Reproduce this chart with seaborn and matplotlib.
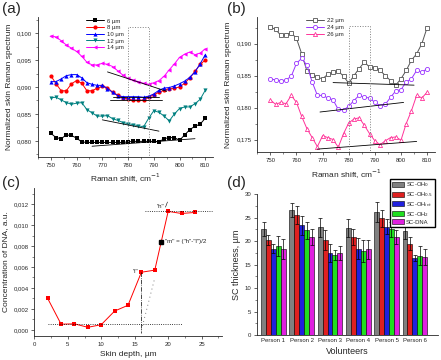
import numpy as np
import pandas as pd
import matplotlib
matplotlib.use("Agg")
import matplotlib.pyplot as plt
import seaborn as sns
from matplotlib.ticker import FuncFormatter, MultipleLocator

# ---------------- data ----------------
shift = [750, 752, 754, 756, 758, 760, 762, 764, 766, 768, 770, 772, 774, 776, 778, 780,
         782, 784, 786, 788, 790, 792, 794, 796, 798, 800, 802, 804, 806, 808, 810]

# panel (a)
a_6 = [.0814, .0806, .0804, .0811, .0810, .0805, .0798, .0797, .0797, .0797, .0797,
       .0797, .0797, .0797, .0797, .0798, .0799, .0799, .0799, .0799, .0799,
       .0798, .0804, .0806, .0806, .0801, .0811, .0821, .0827, .0831, .0842]
a_8 = [.0921, .0906, .0893, .0893, .0906, .0912, .0907, .0893, .0893, .0898, .0901,
       .0899, .0890, .0885, .0880, .0878, .0875, .0875, .0876, .0881, .0886,
       .0890, .0894, .0897, .0898, .0900, .0907, .0917, .0929, .0942, .0950]
a_10 = [.0910, .0910, .0915, .0921, .0923, .0923, .0917, .0908, .0905, .0903, .0903,
        .0897, .0890, .0884, .0882, .0882, .0882, .0882, .0881, .0883, .0887,
        .0894, .0898, .0899, .0902, .0906, .0911, .0918, .0928, .0943, .0960]
a_12 = [.0880, .0881, .0876, .0871, .0868, .0870, .0871, .0858, .0852, .0846, .0846,
        .0847, .0841, .0838, .0834, .0832, .0830, .0828, .0826, .0842, .0856,
        .0853, .0846, .0837, .0850, .0860, .0863, .0863, .0869, .0877, .0894]
a_14 = [.0995, .0993, .0986, .0978, .0972, .0966, .0957, .0946, .0941, .0941, .0944,
        .0942, .0938, .0930, .0922, .0916, .0913, .0910, .0907, .0905, .0908,
        .0912, .0920, .0932, .0943, .0955, .0961, .0965, .0960, .0963, .0971]
a_labels = ["6 µm", "8 µm", "10 µm", "12 µm", "14 µm"]
a_base_x = [[772, 795], [774, 792], [773, 793], [770, 792], [766, 806]]
a_base_y = [[.0928, .0892], [.0882, .0882], [.0875, .0875], [.0839, .0818], [.0790, .0804]]

# panel (b)
b_22 = [.1926, .1922, .1913, .1914, .1917, .1908, .1884, .1857, .1851, .1847, .1845,
        .1852, .1855, .1857, .1849, .1838, .1850, .1861, .1871, .1863, .1862,
        .1858, .1850, .1842, .1835, .1845, .1858, .1874, .1884, .1900, .1925]
b_24 = [.1845, .1843, .1842, .1843, .1849, .1869, .1877, .1866, .1840, .1819, .1819,
        .1815, .1812, .1797, .1796, .1802, .1811, .1819, .1816, .1815, .1808,
        .1803, .1805, .1816, .1826, .1828, .1840, .1845, .1858, .1855, .1861]
b_26 = [.1812, .1805, .1808, .1806, .1819, .1808, .1786, .1767, .1753, .1739, .1756,
        .1753, .1750, .1738, .1759, .1776, .1782, .1784, .1772, .1759, .1748,
        .1742, .1748, .1753, .1754, .1749, .1775, .1795, .1819, .1815, .1824]
b_labels = ["22 µm", "24 µm", "26 µm"]
b_base_x = [[774, 805], [769, 801], [768, 806]]
b_base_y = [[.1839, .1835], [.1793, .1808], [.1735, .1747]]
box_x = [780, 788]

# panel (c)
depth = [2, 4, 6, 8, 10, 12, 14, 16, 18, 20, 22, 24]
dna = [0.0030, 0.00055, 0.00058, 0.00025, 0.00050, 0.0018, 0.00235,
       0.0055, 0.0057, 0.0113, 0.0111, 0.0112]
m_depth, m_val = 19, 0.0084
low_level, high_level = 0.00055, 0.0113

# panel (d)
persons = ["Person 1", "Person 2", "Person 3", "Person 4", "Person 5", "Person 6"]
groups = ["SC-OH$_0$", "SC-OH$_{0.5}$", "SC-OH$_{int}$", "SC-OH$_2$", "SC-DNA"]
oh0 = [22.5, 26.6, 22.9, 22.7, 26.2, 22.1]
oh05 = [20.2, 25.5, 20.2, 20.8, 24.8, 19.4]
ohint = [18.4, 23.3, 17.5, 18.4, 23.0, 16.4]
oh2 = [19.0, 22.3, 17.0, 17.9, 22.5, 16.9]
sc_dna = [18.3, 20.8, 17.5, 18.2, 20.8, 16.6]
err_oh0 = [1.5, 1.4, 2.1, 1.9, 2.2, 1.6]
err_oh05 = [1.1, 1.9, 2.1, 1.7, 1.8, 1.4]
err_ohint = [1.0, 2.1, 1.9, 2.2, 1.6, 0.6]
err_oh2 = [2.1, 1.8, 1.1, 2.3, 1.6, 2.1]
err_dna = [2.1, 1.7, 1.5, 2.0, 1.5, 1.8]

# ---------------- style ----------------
sns.set_style("ticks")
plt.rcParams["font.family"] = ["Liberation Sans", "DejaVu Sans"]
plt.rcParams["font.size"] = 5
plt.rcParams["axes.linewidth"] = 0.6
plt.rcParams["xtick.direction"] = "out"
plt.rcParams["ytick.direction"] = "out"


def comma(dec):
    return FuncFormatter(lambda v, p: f"{v:.{dec}f}".replace(".", ","))


def origin_axes(ax):
    sns.despine(ax=ax)
    ax.tick_params(which="major", labelsize=4.3, length=2.2, width=0.5, pad=2)
    ax.tick_params(which="minor", length=1.2, width=0.4)


fig = plt.figure(figsize=(4.41, 3.6), dpi=100)

# ---------------- (a) ----------------
ax = fig.add_axes([0.0862, 0.5639, 0.3968, 0.3889])
a_series = [a_6, a_8, a_10, a_12, a_14]
a_colors = ["black", "#ff0000", "#0000ff", "#008080", "#ff00ff"]
a_marks = ["s", "o", "^", "v", "<"]
for ys, c, mk, lab in zip(a_series, a_colors, a_marks, a_labels):
    sns.lineplot(x=shift, y=ys, color=c, marker=mk, markersize=3, markeredgewidth=0,
                 lw=0.7, label=lab, ax=ax)
for bx, by in zip(a_base_x, a_base_y):
    ax.plot(bx, by, color="black", lw=0.6)
ax.plot([box_x[0], box_x[0], box_x[1], box_x[1]], [0.077, 0.1012, 0.1012, 0.077],
        color="gray", ls=":", lw=0.7)
ax.set_xlim(745, 813)
ax.set_ylim(0.077, 0.103)
ax.xaxis.set_major_locator(MultipleLocator(10))
ax.xaxis.set_minor_locator(MultipleLocator(5))
ax.yaxis.set_major_locator(MultipleLocator(0.005))
ax.yaxis.set_minor_locator(MultipleLocator(0.0025))
ax.yaxis.set_major_formatter(comma(3))
ax.set_xlabel("Raman shift, cm$^{-1}$", fontsize=6, labelpad=3)
ax.set_ylabel("Normalized skin Raman spectrum", fontsize=6, labelpad=3)
origin_axes(ax)
ax.legend(loc="upper left", bbox_to_anchor=(0.25, 1.02), frameon=False, fontsize=4.3,
          handlelength=3, labelspacing=0.25, borderpad=0.2, handletextpad=0.5)

# ---------------- (b) ----------------
ax = fig.add_axes([0.5834, 0.5769, 0.4029, 0.3767])
b_series = [b_22, b_24, b_26]
b_colors = ["#555555", "#9933ff", "#ff3399"]
b_marks = ["s", "o", "^"]
for ys, c, mk, lab in zip(b_series, b_colors, b_marks, b_labels):
    sns.lineplot(x=shift, y=ys, color=c, marker=mk, markersize=3, markerfacecolor="white",
                 markeredgecolor=c, markeredgewidth=0.6, lw=0.7, label=lab, ax=ax)
for bx, by in zip(b_base_x, b_base_y):
    ax.plot(bx, by, color="black", lw=0.6)
ax.plot([box_x[0], box_x[0], box_x[1], box_x[1]], [0.173, 0.1927, 0.1927, 0.173],
        color="gray", ls=":", lw=0.7)
ax.set_xlim(745, 813)
ax.set_ylim(0.173, 0.1942)
ax.xaxis.set_major_locator(MultipleLocator(10))
ax.xaxis.set_minor_locator(MultipleLocator(5))
ax.yaxis.set_major_locator(MultipleLocator(0.005))
ax.yaxis.set_minor_locator(MultipleLocator(0.0025))
ax.yaxis.set_major_formatter(comma(3))
ax.set_xlabel("Raman shift, cm$^{-1}$", fontsize=6, labelpad=3)
ax.set_ylabel("Normalized skin Raman spectrum", fontsize=6, labelpad=3)
origin_axes(ax)
ax.legend(loc="upper left", bbox_to_anchor=(0.25, 1.02), frameon=False, fontsize=4.3,
          handlelength=3, labelspacing=0.25, borderpad=0.2, handletextpad=0.5)

# ---------------- (c) ----------------
ax = fig.add_axes([0.0778, 0.0675, 0.4249, 0.4094])
sns.lineplot(x=depth, y=dna, color="#ff0000", marker="s", markersize=3, markeredgewidth=0,
             lw=0.7, ax=ax)
ax.plot([m_depth], [m_val], marker="s", color="black", markersize=3, ls="none")
ax.plot([2, 22], [low_level, low_level], color="black", ls=":", lw=0.6)
ax.plot([16.5, 26.5], [high_level, high_level], color="black", ls=":", lw=0.6)
ax.plot([16, 16], [0.0055, -0.0003], color="black", ls="-.", lw=0.5)
ax.plot([17.9, 15.9], [0.0047, -0.0003], color="black", ls=(0, (1, 5)), lw=0.5)
ax.plot([19.6, 19.9], [0.0117, 0.0122], color="black", lw=0.4)
ax.text(15.6, 0.0056, '"l"', fontsize=4.5, ha="right", va="center")
ax.text(19.4, 0.0118, '"h"', fontsize=4.5, ha="right", va="center")
ax.text(19.6, 0.0084, '"m" = ("h"-"l")/2', fontsize=4.5, ha="left", va="center")
ax.set_xlim(0, 28)
ax.set_ylim(-0.00055, 0.0135)
ax.xaxis.set_major_locator(MultipleLocator(5))
ax.xaxis.set_minor_locator(MultipleLocator(2.5))
ax.yaxis.set_major_locator(MultipleLocator(0.002))
ax.yaxis.set_minor_locator(MultipleLocator(0.001))
ax.yaxis.set_major_formatter(comma(3))
ax.set_xlabel("Skin depth, µm", fontsize=6, labelpad=3)
ax.set_ylabel("Concentration of DNA, a.u.", fontsize=6, labelpad=3)
origin_axes(ax)

# ---------------- (d) ----------------
ax = fig.add_axes([0.5834, 0.0694, 0.4098, 0.3917])
vals = [oh0, oh05, ohint, oh2, sc_dna]
errs = [err_oh0, err_oh05, err_ohint, err_oh2, err_dna]
df = pd.DataFrame({
    "person": persons * len(groups),
    "group": [g for g in groups for _ in persons],
    "value": [v for vs in vals for v in vs],
})
bar_colors = ["#808080", "#ff0000", "#0000ff", "#00ff00", "#ff00ff"]
sns.barplot(data=df, x="person", y="value", hue="group", palette=bar_colors,
            width=0.87, gap=0, errorbar=None, edgecolor="black", linewidth=0.4, ax=ax)
for cont, vs, es in zip(ax.containers, vals, errs):
    cx = [p.get_x() + p.get_width() / 2 for p in cont.patches]
    ax.errorbar(cx, vs, yerr=es, fmt="none", ecolor="black", elinewidth=0.5,
                capsize=1.3, capthick=0.5)
ax.set_xlim(-0.57, 5.82)
ax.set_ylim(0, 30)
ax.yaxis.set_major_locator(MultipleLocator(5))
ax.yaxis.set_minor_locator(MultipleLocator(2.5))
ax.set_xlabel("Volunteers", fontsize=6.5, labelpad=3)
ax.set_ylabel("SC thickness, µm", fontsize=6.5, labelpad=3)
origin_axes(ax)
ax.tick_params(axis="x", which="major", length=0)
ax.legend(loc="upper right", bbox_to_anchor=(1.0, 1.13), frameon=True, fancybox=False,
          edgecolor="black", fontsize=4.2, handlelength=2.2, handleheight=0.9,
          labelspacing=0.15, borderpad=0.3, handletextpad=0.3, framealpha=1)

for lab, x, y in [("(a)", 0.005, 0.995), ("(b)", 0.515, 0.995),
                  ("(c)", 0.005, 0.51), ("(d)", 0.515, 0.51)]:
    fig.text(x, y, lab, fontsize=11, ha="left", va="top")

fig.savefig("out.png", dpi=100)
